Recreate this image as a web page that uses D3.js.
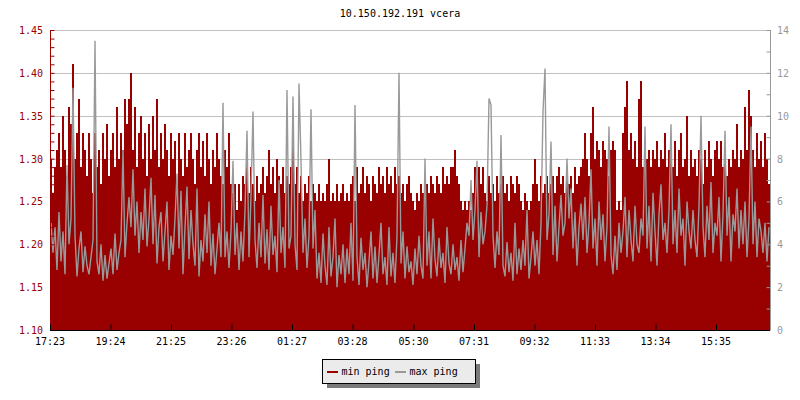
<!DOCTYPE html>
<html><head><meta charset="utf-8">
<script src="https://cdn.jsdelivr.net/npm/d3@7"></script>
<style>
body{margin:0;background:#fff}
text{font-family:"DejaVu Sans Mono",monospace;font-size:10px}
</style>
</head><body>
<svg id="chart" width="800" height="400"></svg>
<script>
const title = "10.150.192.191 vcera";
const startTime = "17:23";
const stepMinutes = 4;
const seriesNames = ["min ping", "max ping"];
const timeLabels = ["17:23","19:24","21:25","23:26","01:27","03:28","05:30","07:31","09:32","11:33","13:34","15:35"];
const leftTicks = [1.10,1.15,1.20,1.25,1.30,1.35,1.40,1.45];
const rightTicks = [0,2,4,6,8,10,12,14];

// min ping (ms, left axis), one value per 4 minutes
const minPing = [
 1.30,1.26,1.29,1.31,1.33,1.29,1.35,1.31,1.28,1.36,
 1.34,1.41,1.30,1.33,1.37,1.29,1.33,1.31,1.28,1.33,
 1.30,1.26,1.33,1.29,1.31,1.27,1.33,1.30,1.34,1.28,
 1.31,1.33,1.29,1.36,1.30,1.33,1.31,1.37,1.34,1.37,
 1.40,1.31,1.36,1.29,1.33,1.35,1.30,1.33,1.28,1.34,
 1.30,1.35,1.31,1.37,1.29,1.33,1.30,1.34,1.31,1.28,
 1.33,1.30,1.32,1.27,1.33,1.30,1.28,1.33,1.29,1.31,
 1.33,1.30,1.27,1.31,1.33,1.29,1.32,1.28,1.33,1.30,
 1.27,1.31,1.29,1.33,1.30,1.28,1.27,1.31,1.29,1.33,

 1.27,1.26,1.27,1.24,1.27,1.25,1.28,1.27,1.29,1.26,
 1.29,1.27,1.25,1.28,1.26,1.27,1.29,1.26,1.28,1.31,
 1.27,1.29,1.26,1.30,1.28,1.27,1.29,1.26,1.28,1.27,
 1.29,1.32,1.27,1.29,1.26,1.28,1.25,1.27,1.26,1.28,
 1.25,1.27,1.26,1.25,1.27,1.25,1.26,1.25,1.27,1.30,
 1.25,1.26,1.25,1.27,1.25,1.26,1.27,1.25,1.26,1.25,
 1.27,1.28,1.25,1.29,1.26,1.27,1.29,1.26,1.28,1.27,
 1.25,1.28,1.27,1.26,1.29,1.27,1.28,1.26,1.29,1.27,
 1.28,1.26,1.29,1.27,1.28,1.26,1.27,1.25,1.27,1.28,

 1.26,1.25,1.24,1.26,1.25,1.27,1.26,1.28,1.27,1.26,
 1.28,1.27,1.26,1.28,1.27,1.26,1.29,1.27,1.28,1.27,
 1.29,1.29,1.31,1.28,1.27,1.25,1.24,1.25,1.24,1.25,
 1.24,1.26,1.29,1.28,1.29,1.27,1.29,1.26,1.25,1.28,
 1.26,1.27,1.25,1.28,1.26,1.27,1.28,1.26,1.27,1.25,
 1.28,1.27,1.26,1.28,1.27,1.25,1.24,1.26,1.25,1.24,
 1.25,1.27,1.30,1.27,1.25,1.28,1.26,1.27,1.28,1.26,
 1.27,1.28,1.26,1.28,1.29,1.27,1.28,1.26,1.29,1.27,
 1.28,1.26,1.29,1.27,1.28,1.29,1.30,1.33,1.30,1.28,

 1.33,1.36,1.30,1.32,1.31,1.29,1.32,1.31,1.30,1.28,
 1.31,1.32,1.31,1.24,1.25,1.24,1.33,1.36,1.39,1.31,
 1.33,1.30,1.32,1.29,1.37,1.39,1.29,1.32,1.30,1.31,
 1.29,1.31,1.30,1.32,1.29,1.31,1.30,1.33,1.29,1.31,
 1.30,1.29,1.32,1.28,1.31,1.33,1.29,1.30,1.35,1.28,
 1.31,1.29,1.30,1.28,1.31,1.30,1.27,1.31,1.29,1.32,
 1.30,1.28,1.31,1.32,1.30,1.32,1.29,1.31,1.28,1.30,
 1.29,1.31,1.30,1.34,1.29,1.31,1.30,1.36,1.31,1.38,
 1.35,1.31,1.29,1.33,1.30,1.32,1.29,1.33,1.30,1.27
];

// max ping (ms, right axis), one value per 4 minutes
const maxPing = [
 5.0,3.6,4.8,2.8,5.5,3.2,4.6,2.6,7.7,4.0,
 5.2,11.3,4.4,2.5,3.8,4.6,2.7,3.9,3.0,2.6,
 3.4,4.2,13.5,3.2,2.6,4.0,2.3,3.5,2.4,3.1,
 3.8,2.6,4.5,2.8,3.6,4.2,8.4,3.4,5.0,6.2,
 4.8,7.5,4.4,6.0,3.6,5.5,4.2,6.6,3.9,5.2,
 7.1,4.0,6.3,3.1,4.8,5.5,3.2,4.6,6.0,2.8,
 4.4,3.5,5.2,7.3,3.8,6.5,2.6,4.8,6.7,3.3,
 5.6,4.0,3.0,6.6,2.5,4.2,3.2,5.4,3.6,6.0,
 3.0,4.5,2.6,3.8,5.0,3.4,10.6,3.4,4.6,2.9,

 4.6,7.9,3.5,5.0,2.8,4.6,3.2,5.6,9.3,3.4,
 6.3,10.2,4.2,2.9,5.0,3.4,6.3,3.1,4.7,2.8,
 5.8,3.5,4.4,2.7,7.0,3.6,4.8,2.9,11.2,3.8,
 4.4,10.9,4.0,2.8,11.5,7.9,3.6,5.2,2.9,4.4,
 10.3,3.8,5.6,2.4,3.6,2.2,4.5,3.0,2.1,4.8,
 2.5,3.4,5.2,2.0,3.5,2.6,4.0,2.2,3.8,2.6,
 5.0,2.3,10.5,3.4,2.1,4.3,2.8,3.6,2.0,3.2,
 4.6,2.4,3.9,2.2,3.5,5.0,2.6,3.4,2.1,4.8,
 2.5,3.6,2.2,4.4,12.0,3.1,4.6,2.4,3.9,2.7,

 3.2,2.1,3.8,2.6,4.4,3.0,2.4,8.0,3.0,4.6,
 2.4,5.2,3.3,2.5,4.3,2.9,3.6,2.2,4.8,3.1,
 2.6,4.0,2.8,3.4,2.3,4.2,2.7,3.8,5.0,4.4,
 7.0,4.2,5.6,7.9,3.4,5.5,4.0,4.6,5.8,10.8,
 10.5,4.4,2.9,4.6,3.5,9.1,3.0,2.5,4.1,2.7,
 3.6,2.3,5.0,2.6,3.8,2.8,4.2,3.0,5.6,2.4,
 3.4,4.6,3.0,4.2,2.6,5.0,10.2,12.2,4.2,5.4,
 8.8,3.5,5.8,3.2,4.8,6.3,4.4,5.0,8.0,5.2,
 6.6,3.8,5.5,3.0,4.8,5.9,4.2,6.2,3.6,5.0,

 7.5,3.8,5.2,3.0,6.0,4.2,5.4,3.2,4.8,9.5,
 3.5,2.6,4.4,2.8,5.0,3.6,4.6,6.2,3.4,5.6,
 4.2,3.2,5.8,4.0,3.6,5.2,4.4,9.5,3.8,5.8,
 3.2,6.4,4.6,3.0,5.4,6.8,4.2,5.0,3.6,5.6,
 9.6,4.0,5.6,3.6,6.6,4.4,5.2,3.0,6.0,4.6,
 3.8,5.6,4.2,3.4,5.8,10.0,4.8,3.4,5.8,4.2,
 6.9,3.6,5.0,4.4,6.2,3.2,5.4,9.3,4.4,6.2,
 3.2,5.4,4.6,6.6,3.8,5.6,4.0,6.0,3.4,5.2,
 9.5,4.0,6.0,3.4,5.2,4.6,3.6,5.0,3.2,4.8
];

const RED = "#990000", GRAY = "#999999";
const svg = d3.select("#chart");
const L = 50, R = 770, T = 30, B = 330;

const [sh, sm] = startTime.split(":").map(Number);
const t0 = new Date(2020, 0, 1, sh, sm);
const MIN = 60000;
const tEnd = new Date(+t0 + 24 * 60 * MIN);
const x = d3.scaleTime().domain([t0, tEnd]).range([L, R]);
const yL = d3.scaleLinear().domain([1.10, 1.45]).range([B, T]);
const yR = d3.scaleLinear().domain([0, 14]).range([B, T]);
const tAt = i => new Date(+t0 + i * stepMinutes * MIN);

const tickDates = timeLabels.map(s => {
  const [h, m] = s.split(":").map(Number);
  let d = new Date(2020, 0, 1, h, m);
  if (d < t0) d = new Date(+d + 24 * 60 * MIN);
  return d;
});

// title
svg.append("text").attr("x", 400).attr("y", 17).attr("text-anchor", "middle").attr("fill", "#000").text(title);

// gridlines
svg.append("g").selectAll("line").data(leftTicks.filter(v => v > 1.10)).join("line")
  .attr("x1", L).attr("x2", R).attr("y1", d => Math.round(yL(d)) + 0.5).attr("y2", d => Math.round(yL(d)) + 0.5)
  .attr("stroke", "#c0c0c0").attr("stroke-width", 1);

// min ping bars
svg.append("g").attr("shape-rendering", "crispEdges").selectAll("rect").data(minPing).join("rect")
  .attr("x", (d, i) => x(tAt(i)))
  .attr("width", (d, i) => x(tAt(i + 1)) - x(tAt(i)))
  .attr("y", d => yL(d))
  .attr("height", d => B - yL(d))
  .attr("fill", RED);

// max ping line
const line = d3.line().x((d, i) => x(new Date(+tAt(i) + stepMinutes * MIN / 2))).y(d => yR(d));
svg.append("path").datum(maxPing).attr("d", line).attr("fill", "none").attr("stroke", GRAY)
  .attr("stroke-width", 1.4).attr("stroke-linejoin", "bevel");

// left axis
const axL = d3.axisRight(yL).tickValues(d3.range(110, 146).map(v => v / 100)).tickSize(4).tickFormat("");
const gL = svg.append("g").attr("transform", `translate(${L + 0.5},0)`).call(axL);
gL.selectAll("path,line").attr("stroke", RED);
gL.select(".domain").attr("d", `M0,${T}V${B}`);
svg.append("g").selectAll("text").data(leftTicks).join("text")
  .attr("x", 43).attr("y", d => yL(d) + 4).attr("text-anchor", "end").attr("fill", RED)
  .text(d => d.toFixed(2));

// right axis
const axR = d3.axisLeft(yR).tickValues(d3.range(0, 15)).tickSize(4).tickFormat("");
const gR = svg.append("g").attr("transform", `translate(${R + 0.5},0)`).call(axR);
gR.selectAll("path,line").attr("stroke", GRAY);
gR.select(".domain").attr("d", `M0,${T}V${B}`);
svg.append("g").selectAll("text").data(rightTicks).join("text")
  .attr("x", 777).attr("y", d => yR(d) + 4).attr("text-anchor", "start").attr("fill", GRAY)
  .text(d => d);

// x axis
const axX = d3.axisTop(x).tickValues(tickDates).tickSize(6).tickFormat("");
const gX = svg.append("g").attr("transform", `translate(0,${B + 0.5})`).call(axX);
gX.selectAll("path,line").attr("stroke", "#000");
gX.select(".domain").attr("d", `M${L},0H${R}`);
svg.append("g").selectAll("text").data(tickDates).join("text")
  .attr("x", d => x(d)).attr("y", 345).attr("text-anchor", "middle").attr("fill", "#000")
  .text((d, i) => timeLabels[i]);

// legend
const lg = svg.append("g");
lg.append("rect").attr("x", 327).attr("y", 364).attr("width", 153).attr("height", 24).attr("fill", "#7a7a7a");
lg.append("rect").attr("x", 322.5).attr("y", 359.5).attr("width", 153).attr("height", 24)
  .attr("fill", "#ebebeb").attr("stroke", "#000").attr("stroke-width", 1);
const legendItems = [{name: seriesNames[0], color: RED, x: 327}, {name: seriesNames[1], color: GRAY, x: 395}];
legendItems.forEach(it => {
  lg.append("rect").attr("x", it.x).attr("y", 371).attr("width", 11).attr("height", 2).attr("fill", it.color);
  lg.append("text").attr("x", it.x + 14.5).attr("y", 375).attr("fill", "#000").text(it.name);
});
</script>
</body></html>
